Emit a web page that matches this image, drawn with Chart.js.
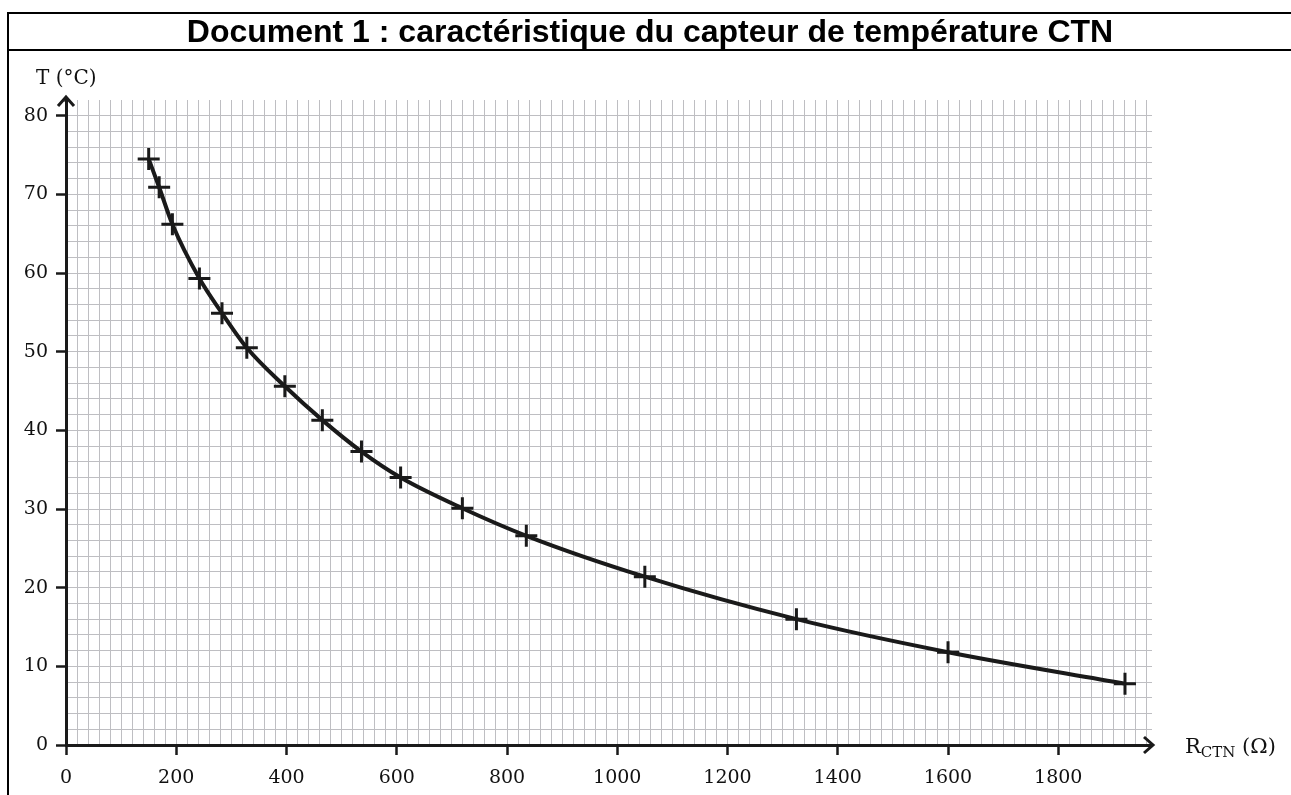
<!DOCTYPE html>
<html>
<head>
<meta charset="utf-8">
<script src="https://cdn.jsdelivr.net/npm/chart.js@4/dist/chart.umd.min.js"></script>
<style>
  html, body { margin: 0; padding: 0; background: #fff; width: 1291px; height: 795px; overflow: hidden; }
  #wrap { position: relative; width: 1291px; height: 795px; }
  canvas { position: absolute; left: 0; top: 0; }
  .frame { position: absolute; left: 7px; top: 12px; width: 1300px; height: 800px; border-left: 2px solid #000; border-top: 2px solid #000; box-sizing: border-box; }
  .divider { position: absolute; left: 7px; top: 49px; width: 1300px; height: 2px; background: #000; }
  .title { position: absolute; left: 0; width: 1300px; top: 14px; height: 35px; line-height: 35px; text-align: center; font-family: "Liberation Sans", Arial, sans-serif; font-weight: bold; font-size: 32px; color: #000; }
  .lab { position: absolute; font-family: "DejaVu Serif", serif; font-size: 20px; line-height: 20px; color: #111; white-space: nowrap; }
  .lab sub { font-size: 15px; vertical-align: -4px; line-height: 0; }
</style>
</head>
<body>
<div id="wrap">
  <canvas id="c" width="1291" height="795"></canvas>
  <div class="frame"></div>
  <div class="divider"></div>
  <div class="title">Document 1 : caractéristique du capteur de température CTN</div>
  <div class="lab" style="left:36px; top:67px;">T (°C)</div>
  <div class="lab" style="left:1185px; top:736px; font-size:21px;">R<sub>CTN</sub> (Ω)</div>
</div>
<script>
// Data
const R_OHM = [150, 169, 193, 242, 283, 328, 397, 465, 536, 607, 719, 835, 1050, 1325, 1600, 1921];
const T_C   = [74.5, 70.9, 66.2, 59.3, 54.9, 50.5, 45.6, 41.3, 37.3, 34.0, 30.1, 26.6, 21.4, 16.0, 11.8, 7.8];
const X_TICK_LABELS = [0, 200, 400, 600, 800, 1000, 1200, 1400, 1600, 1800];
const Y_TICK_LABELS = [0, 10, 20, 30, 40, 50, 60, 70, 80];

const points = R_OHM.map((r, i) => ({ x: r, y: T_C[i] }));
const INK = '#1a1a1a';
const GRID = '#bebec2';

const arrowPlugin = {
  id: 'arrows',
  afterDraw(chart) {
    const { ctx, chartArea } = chart;
    const x0 = chart.scales.x.getPixelForValue(0);
    const y0 = chart.scales.y.getPixelForValue(0);
    ctx.save();
    ctx.strokeStyle = INK;
    ctx.lineWidth = 3;
    ctx.lineCap = 'butt';
    ctx.beginPath();
    ctx.moveTo(chartArea.right - 2, y0);
    ctx.lineTo(chartArea.right + 1, y0);
    ctx.moveTo(x0, chartArea.top + 2);
    ctx.lineTo(x0, chartArea.top - 2);
    ctx.stroke();
    ctx.lineJoin = 'miter';
    const tx = chartArea.right + 1;
    ctx.beginPath();
    ctx.moveTo(tx - 9, y0 - 8);
    ctx.lineTo(tx, y0);
    ctx.lineTo(tx - 9, y0 + 8);
    ctx.stroke();
    const ty = chartArea.top - 3;
    ctx.beginPath();
    ctx.moveTo(x0 - 8, ty + 9);
    ctx.lineTo(x0, ty);
    ctx.lineTo(x0 + 8, ty + 9);
    ctx.stroke();
    ctx.restore();
  }
};

new Chart(document.getElementById('c'), {
  type: 'scatter',
  data: {
    datasets: [{
      data: points,
      showLine: true,
      borderColor: INK,
      borderWidth: 4,
      cubicInterpolationMode: 'monotone',
      pointStyle: 'cross',
      pointRadius: 11,
      pointBorderWidth: 3,
      pointBorderColor: INK,
      pointBackgroundColor: INK
    }]
  },
  options: {
    responsive: false,
    animation: false,
    devicePixelRatio: 1,
    layout: { padding: { left: 0, top: 100, right: 139, bottom: 0 } },
    plugins: { legend: { display: false }, tooltip: { enabled: false } },
    scales: {
      x: {
        type: 'linear',
        min: 0, max: 1970,
        afterFit(s) { s.height = 50; },
        border: { color: INK, width: 3 },
        grid: {
          color: (c) => (c.tick && c.tick.value <= 1960) ? GRID : 'rgba(0,0,0,0)',
          lineWidth: 1,
          drawTicks: true,
          tickLength: 10,
          tickWidth: 2.5,
          tickColor: (c) => (c.tick && X_TICK_LABELS.includes(c.tick.value)) ? INK : 'rgba(0,0,0,0)'
        },
        ticks: {
          stepSize: 20,
          includeBounds: false,
          autoSkip: false,
          maxRotation: 0,
          padding: 12,
          color: '#111',
          font: { family: 'DejaVu Serif', size: 19 },
          callback: (v) => X_TICK_LABELS.includes(v) ? String(v) : ''
        }
      },
      y: {
        type: 'linear',
        min: 0, max: 82,
        afterFit(s) { s.width = 66; },
        border: { color: INK, width: 3 },
        grid: {
          color: (c) => (c.tick && c.tick.value <= 80) ? GRID : 'rgba(0,0,0,0)',
          lineWidth: 1,
          drawTicks: true,
          tickLength: 10,
          tickWidth: 2.5,
          tickColor: (c) => (c.tick && Y_TICK_LABELS.includes(c.tick.value)) ? INK : 'rgba(0,0,0,0)'
        },
        ticks: {
          stepSize: 2,
          includeBounds: false,
          autoSkip: false,
          padding: 8,
          color: '#111',
          font: { family: 'DejaVu Serif', size: 19 },
          callback: (v) => Y_TICK_LABELS.includes(v) ? String(v) : ''
        }
      }
    }
  },
  plugins: [arrowPlugin]
});
</script>
</body>
</html>
